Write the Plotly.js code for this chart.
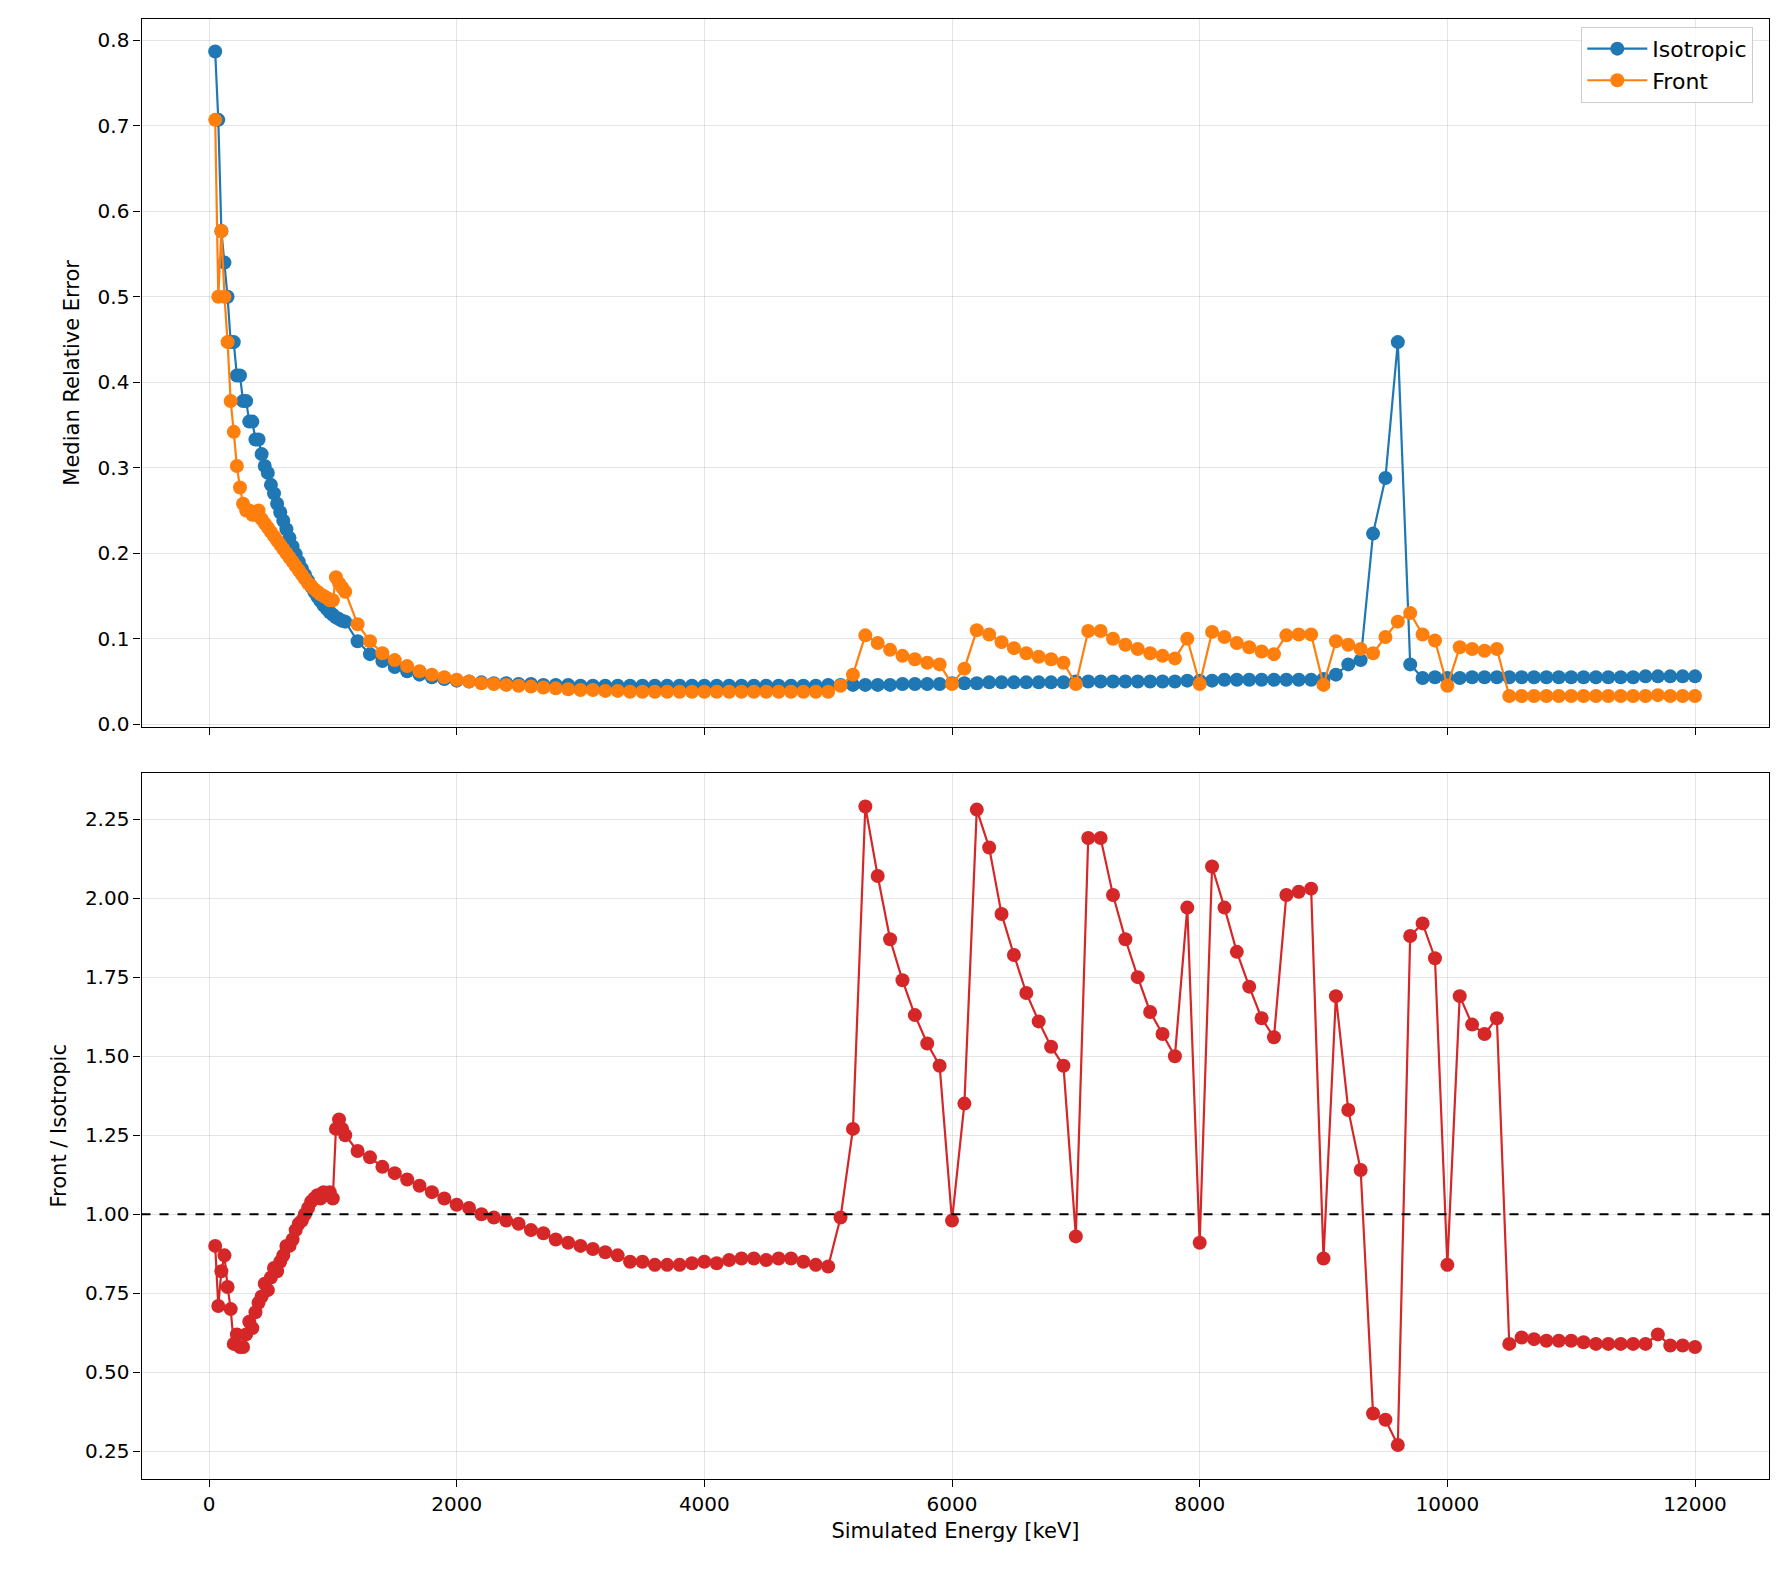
<!DOCTYPE html>
<html>
<head>
<meta charset="utf-8">
<script src="https://cdn.plot.ly/plotly-3.0.1.min.js"></script>
<style>body{margin:0;background:#fff}#chart{width:1780px;height:1580px}</style>
</head>
<body>
<div id="chart"></div>
<script>
const energyLow = [50,75,100,125,150,175,200,225,250,275,300,325,350,375,400,425,450,475,500,525,550,575,600,625,650,675,700,725,750,775,800,825,850,875,900,925,950,975,1000,1025,1050,1075,1100];
const energyHigh = [1200,1300,1400,1500,1600,1700,1800,1900,2000,2100,2200,2300,2400,2500,2600,2700,2800,2900,3000,3100,3200,3300,3400,3500,3600,3700,3800,3900,4000,4100,4200,4300,4400,4500,4600,4700,4800,4900,5000,5100,5200,5300,5400,5500,5600,5700,5800,5900,6000,6100,6200,6300,6400,6500,6600,6700,6800,6900,7000,7100,7200,7300,7400,7500,7600,7700,7800,7900,8000,8100,8200,8300,8400,8500,8600,8700,8800,8900,9000,9100,9200,9300,9400,9500,9600,9700,9800,9900,10000,10100,10200,10300,10400,10500,10600,10700,10800,10900,11000,11100,11200,11300,11400,11500,11600,11700,11800,11900,12000];

const isoLow = [0.787,0.707,0.577,0.540,0.500,0.447,0.447,0.408,0.408,0.378,0.378,0.354,0.354,0.333,0.333,0.316,0.302,0.294,0.280,0.270,0.258,0.248,0.238,0.228,0.218,0.208,0.199,0.190,0.182,0.175,0.168,0.161,0.155,0.149,0.144,0.139,0.135,0.131,0.128,0.125,0.123,0.121,0.120];
const isoHigh = [0.097,0.082,0.074,0.067,0.062,0.058,0.055,0.053,0.051,0.050,0.049,0.048,0.048,0.047,0.047,0.046,0.046,0.046,0.045,0.045,0.045,0.045,0.045,0.045,0.045,0.045,0.045,0.045,0.045,0.045,0.045,0.045,0.045,0.045,0.045,0.045,0.045,0.045,0.046,0.046,0.046,0.046,0.046,0.046,0.047,0.047,0.047,0.047,0.048,0.048,0.048,0.049,0.049,0.049,0.049,0.049,0.049,0.049,0.050,0.050,0.050,0.050,0.050,0.050,0.050,0.050,0.050,0.051,0.051,0.051,0.052,0.052,0.052,0.052,0.052,0.052,0.052,0.052,0.053,0.058,0.070,0.075,0.223,0.288,0.447,0.070,0.054,0.055,0.054,0.054,0.055,0.055,0.055,0.055,0.055,0.055,0.055,0.055,0.055,0.055,0.055,0.055,0.055,0.055,0.056,0.056,0.056,0.056,0.056];

const frontLow = [0.707,0.500,0.577,0.500,0.447,0.378,0.342,0.302,0.277,0.258,0.250,0.250,0.245,0.245,0.250,0.240,0.235,0.230,0.225,0.220,0.215,0.210,0.205,0.200,0.195,0.190,0.185,0.180,0.175,0.170,0.165,0.162,0.158,0.155,0.152,0.150,0.148,0.145,0.145,0.172,0.165,0.160,0.155];
const frontHigh = [0.117,0.097,0.083,0.075,0.068,0.062,0.058,0.055,0.052,0.050,0.048,0.047,0.046,0.045,0.044,0.043,0.042,0.041,0.040,0.040,0.039,0.039,0.038,0.038,0.038,0.038,0.038,0.038,0.038,0.038,0.038,0.038,0.038,0.038,0.038,0.038,0.038,0.038,0.038,0.045,0.058,0.104,0.095,0.087,0.080,0.076,0.072,0.070,0.047,0.065,0.110,0.105,0.096,0.089,0.083,0.079,0.076,0.072,0.047,0.109,0.109,0.100,0.093,0.088,0.083,0.080,0.077,0.100,0.047,0.108,0.102,0.095,0.090,0.085,0.082,0.104,0.105,0.105,0.046,0.097,0.093,0.088,0.083,0.102,0.120,0.130,0.105,0.098,0.045,0.090,0.088,0.086,0.088,0.033,0.033,0.033,0.033,0.033,0.033,0.033,0.033,0.033,0.033,0.033,0.033,0.034,0.033,0.033,0.033];

const ratioLow = [0.90,0.71,0.82,0.87,0.77,0.70,0.59,0.62,0.58,0.58,0.62,0.66,0.64,0.69,0.72,0.74,0.78,0.76,0.80,0.83,0.82,0.85,0.87,0.90,0.90,0.92,0.95,0.97,0.98,1.00,1.02,1.04,1.05,1.06,1.05,1.07,1.06,1.07,1.05,1.27,1.30,1.27,1.25];
const ratioHigh = [1.20,1.18,1.15,1.13,1.11,1.09,1.07,1.05,1.03,1.02,1.00,0.99,0.98,0.97,0.95,0.94,0.92,0.91,0.90,0.89,0.88,0.87,0.85,0.85,0.84,0.84,0.84,0.845,0.85,0.845,0.855,0.86,0.86,0.855,0.86,0.86,0.85,0.84,0.835,0.99,1.27,2.29,2.07,1.87,1.74,1.63,1.54,1.47,0.98,1.35,2.28,2.16,1.95,1.82,1.70,1.61,1.53,1.47,0.93,2.19,2.19,2.01,1.87,1.75,1.64,1.57,1.50,1.97,0.91,2.10,1.97,1.83,1.72,1.62,1.56,2.01,2.02,2.03,0.86,1.69,1.33,1.14,0.37,0.35,0.27,1.88,1.92,1.81,0.84,1.69,1.60,1.57,1.62,0.59,0.61,0.605,0.60,0.60,0.60,0.595,0.59,0.59,0.59,0.59,0.59,0.62,0.585,0.585,0.58];

const energy = energyLow.concat(energyHigh);

function linea(y, nombre, color, ejeX, ejeY, leyenda) {
  return {
    x: energy, y: y, type: 'scatter', mode: 'lines+markers', name: nombre,
    xaxis: ejeX, yaxis: ejeY, showlegend: leyenda,
    line: { color: color, width: 2.2 },
    marker: { color: color, size: 14 }
  };
}

const trazas = [
  linea(isoLow.concat(isoHigh), 'Isotropic', '#1f77b4', 'x', 'y', true),
  linea(frontLow.concat(frontHigh), 'Front', '#ff7f0e', 'x', 'y', true),
  linea(ratioLow.concat(ratioHigh), 'ratio', '#d62728', 'x2', 'y2', false)
];

const ejeBase = {
  showline: true, linecolor: '#000', linewidth: 1.2, mirror: true,
  ticks: 'outside', ticklen: 7, tickcolor: '#000',
  gridcolor: 'rgba(0,0,0,0.1)', zeroline: false,
  tickfont: { size: 20, color: '#000' }
};

const layout = {
  width: 1780, height: 1580,
  margin: { l: 0, r: 0, t: 0, b: 0 },
  paper_bgcolor: '#fff', plot_bgcolor: '#fff',
  font: { family: 'DejaVu Sans, sans-serif', color: '#000' },
  xaxis: Object.assign({}, ejeBase, {
    domain: [0.0795, 0.994], anchor: 'y', range: [-545, 12600],
    dtick: 2000, tickformat: 'd', showticklabels: false
  }),
  yaxis: Object.assign({}, ejeBase, {
    domain: [0.54, 0.988], anchor: 'x', range: [-0.003, 0.825], dtick: 0.1,
    tickformat: '.1f',
    title: { text: 'Median Relative Error', font: { size: 21 }, standoff: 12 }
  }),
  xaxis2: Object.assign({}, ejeBase, {
    domain: [0.0795, 0.994], anchor: 'y2', range: [-545, 12600],
    dtick: 2000, tickformat: 'd', matches: 'x',
    title: { text: 'Simulated Energy [keV]', font: { size: 21 }, standoff: 8 }
  }),
  yaxis2: Object.assign({}, ejeBase, {
    domain: [0.064, 0.511], anchor: 'x2', range: [0.163, 2.397], dtick: 0.25,
    tickformat: '.2f',
    title: { text: 'Front / Isotropic', font: { size: 21 }, standoff: 12 }
  }),
  shapes: [{
    type: 'line', xref: 'x2 domain', yref: 'y2', x0: 0, x1: 1, y0: 1, y1: 1,
    line: { color: '#000', width: 2, dash: 'dash' }
  }],
  legend: {
    x: 0.985, y: 0.983, xanchor: 'right', yanchor: 'top',
    bgcolor: 'rgba(255,255,255,0.8)', bordercolor: '#ccc', borderwidth: 1,
    font: { size: 22 }, itemwidth: 60, tracegroupgap: 8
  }
};

Plotly.newPlot('chart', trazas, layout, { displayModeBar: false });
</script>
</body>
</html>
